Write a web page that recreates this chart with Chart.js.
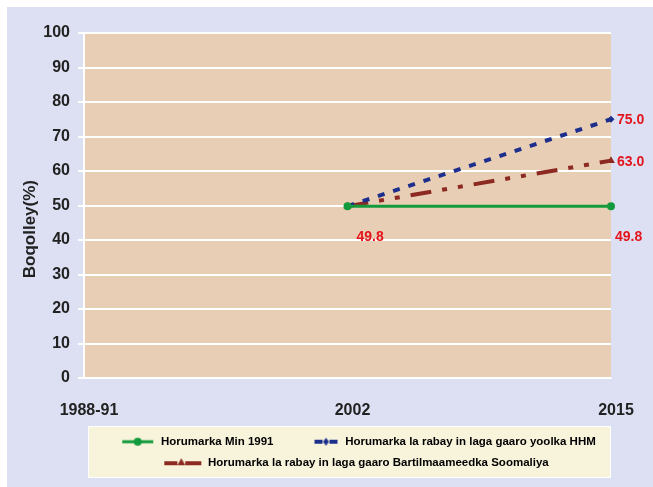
<!DOCTYPE html>
<html>
<head>
<meta charset="utf-8">
<script src="https://cdn.jsdelivr.net/npm/chart.js@4.4.1/dist/chart.umd.min.js"></script>
<style>
  html, body { margin: 0; padding: 0; background: #fff; }
  canvas { display: block; }
</style>
</head>
<body>
<canvas id="chart" width="653" height="487"></canvas>
<script>
// chart data
const years = ['1988-91', '2002', '2015'];
const seriesNames = [
    'Horumarka Min 1991',
    'Horumarka la rabay in laga gaaro yoolka HHM',
    'Horumarka la rabay in laga gaaro Bartilmaameedka Soomaliya'
];
const minValues = [null, 49.8, 49.8];
const hhmValues = [null, 49.8, 75.0];
const somValues = [null, 49.8, 63.0];
const yTicks = [0, 10, 20, 30, 40, 50, 60, 70, 80, 90, 100];

const FONT = '"Liberation Sans", Arial, sans-serif';
const GREEN = '#139A3D';
const BLUE = '#1D2F8C';
const RED = '#8C2A21';
const LABEL_RED = '#E3141C';

// small pictures for the legend (line + marker), drawn at the right of a wider box
function legendIcon(kind) {
    const c = document.createElement('canvas');
    c.width = 56; c.height = 12;
    const g = c.getContext('2d');
    if (kind === 'min') {
        g.strokeStyle = GREEN; g.fillStyle = GREEN; g.lineWidth = 3;
        g.beginPath(); g.moveTo(23, 6); g.lineTo(54, 6); g.stroke();
        g.beginPath(); g.arc(38.5, 6, 4, 0, Math.PI * 2); g.fill();
    } else if (kind === 'hhm') {
        g.fillStyle = BLUE;
        g.fillRect(31, 4, 8, 4);
        g.fillRect(46, 4, 8, 4);
        g.beginPath(); g.moveTo(42.5, 2); g.lineTo(45.5, 6); g.lineTo(42.5, 10); g.lineTo(39.5, 6); g.closePath(); g.fill();
    } else {
        g.fillStyle = RED;
        g.fillRect(18, 4, 13, 4);
        g.fillRect(39, 4, 16, 4);
        g.beginPath(); g.moveTo(35, 1); g.lineTo(39, 8); g.lineTo(31, 8); g.closePath(); g.fill();
    }
    return c;
}
const legendIcons = [legendIcon('min'), legendIcon('hhm'), legendIcon('som')];

// page background, plot area and legend panel
const backdrop = {
    id: 'backdrop',
    beforeDraw(chart) {
        const { ctx, chartArea: a, legend } = chart;
        ctx.save();
        ctx.fillStyle = '#DDE0F2';
        ctx.fillRect(7, 7, chart.width - 7, chart.height - 7);
        ctx.fillStyle = '#E8CEB4';
        ctx.fillRect(a.left, a.top, a.right - a.left, a.bottom - a.top);
        ctx.fillStyle = '#F8F4DB';
        ctx.strokeStyle = '#ffffff';
        ctx.lineWidth = 1;
        const top = legend.top;
        ctx.fillRect(a.left + 4, top, a.right - a.left - 4, 51);
        ctx.strokeRect(a.left + 4.5, top + 0.5, a.right - a.left - 5, 51);
        ctx.restore();
    }
};

// red value labels beside the points
const valueLabels = {
    id: 'valueLabels',
    afterDatasetsDraw(chart) {
        const ctx = chart.ctx;
        ctx.save();
        ctx.font = 'bold 14px ' + FONT;
        ctx.fillStyle = LABEL_RED;
        ctx.textBaseline = 'middle';
        ctx.textAlign = 'left';
        chart.data.datasets.forEach((ds, i) => {
            const meta = chart.getDatasetMeta(i);
            meta.data.forEach((pt, j) => {
                const v = ds.data[j];
                if (v == null) return;
                if (i > 0 && j === 1) return; // start point is shared, labelled once
                if (i === 0) {
                    ctx.fillText(v.toFixed(1), pt.x + (j === 1 ? 9 : 4), pt.y + 31);
                } else {
                    ctx.fillText(v.toFixed(1), pt.x + 6, pt.y + 1);
                }
            });
        });
        ctx.restore();
    }
};

new Chart(document.getElementById('chart').getContext('2d'), {
    type: 'line',
    data: {
        labels: years,
        datasets: [{
            label: seriesNames[0],
            data: minValues,
            borderColor: GREEN,
            backgroundColor: GREEN,
            borderWidth: 3,
            pointStyle: 'circle',
            pointRadius: 4,
            pointBorderWidth: 0,
            tension: 0
        }, {
            label: seriesNames[1],
            data: hhmValues,
            borderColor: BLUE,
            backgroundColor: BLUE,
            borderWidth: 4,
            borderDash: [7, 9],
            pointStyle: 'rectRot',
            pointRadius: 3.5,
            pointBorderWidth: 0,
            tension: 0
        }, {
            label: seriesNames[2],
            data: somValues,
            borderColor: RED,
            backgroundColor: RED,
            borderWidth: 4,
            borderDash: [21, 11, 5, 11, 5, 11],
            pointStyle: 'triangle',
            pointRadius: 4.5,
            pointBorderWidth: 0,
            tension: 0
        }]
    },
    options: {
        responsive: false,
        animation: false,
        layout: { padding: { left: 0, top: 33, right: 42, bottom: 8 } },
        scales: {
            x: {
                offset: false,
                grid: { display: false, drawTicks: false },
                border: { display: true, color: '#ffffff', width: 1 },
                ticks: {
                    padding: 23,
                    labelOffset: 5,
                    color: '#222222',
                    font: { family: FONT, size: 16, weight: 'bold' },
                    maxRotation: 0
                },
                afterFit(scale) { scale.height = 48; }
            },
            y: {
                min: 0,
                max: 100,
                afterBuildTicks(scale) { scale.ticks = yTicks.map(v => ({ value: v })); },
                grid: { color: '#ffffff', lineWidth: 2, tickLength: 6 },
                border: { display: true, color: '#ffffff', width: 2 },
                ticks: {
                    padding: 8,
                    color: '#222222',
                    font: { family: FONT, size: 16, weight: 'bold' }
                },
                title: {
                    display: true,
                    // trailing spaces push the rotated title a little below the axis centre
                    text: 'Boqolley(%)' + '\u00A0'.repeat(10),
                    color: '#222222',
                    font: { family: FONT, size: 17, weight: 'bold' },
                    padding: { top: 20, bottom: 0 }
                },
                afterFit(scale) { scale.width = 84; }
            }
        },
        plugins: {
            legend: {
                position: 'bottom',
                fullSize: false,
                labels: {
                    usePointStyle: true,
                    pointStyleWidth: 56,
                    boxHeight: 12,
                    padding: 10,
                    color: '#222222',
                    font: { family: FONT, size: 11.5, weight: 'bold' },
                    generateLabels(chart) {
                        return chart.data.datasets.map((ds, i) => ({
                            text: ds.label,
                            pointStyle: legendIcons[i],
                            fillStyle: ds.borderColor,
                            strokeStyle: ds.borderColor,
                            lineWidth: 0,
                            hidden: false,
                            datasetIndex: i
                        }));
                    }
                }
            },
            tooltip: { enabled: false }
        }
    },
    plugins: [backdrop, valueLabels]
});
</script>
</body>
</html>
